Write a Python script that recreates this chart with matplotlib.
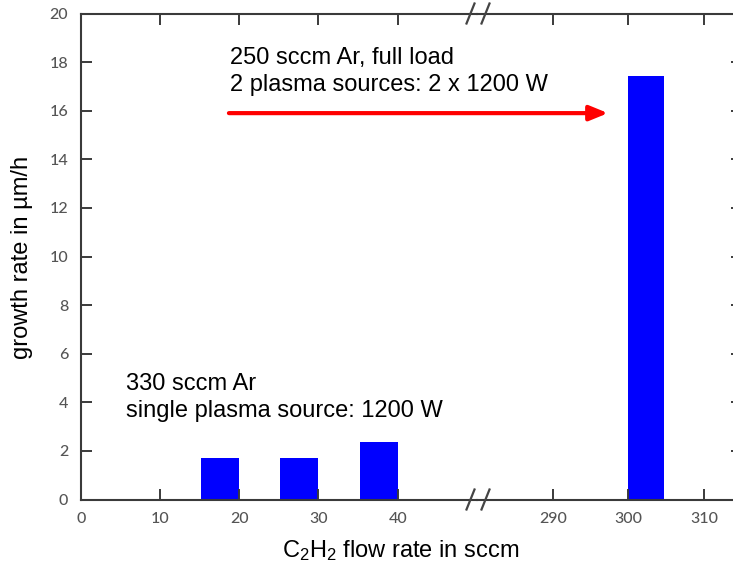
import matplotlib
matplotlib.use("Agg")
import matplotlib.pyplot as plt
from matplotlib.lines import Line2D

plt.rcParams['mathtext.fontset'] = 'custom'
plt.rcParams['mathtext.rm'] = 'Liberation Sans'
plt.rcParams['mathtext.it'] = 'Liberation Sans'

# data
flow_low = [17.6, 27.6, 37.6]
rate_low = [1.70, 1.70, 2.38]
flow_high = [302.3]
rate_high = [17.44]
bar_width = 4.8

xticks_low = [0, 10, 20, 30, 40]
xticks_high = [290, 300, 310]
yticks = list(range(0, 21, 2))

W, H = 733, 569
fig = plt.figure(figsize=(W / 100, H / 100), dpi=100)

spine_col = '#3a3a3a'
tick_col = '#555555'
tick_font = 'Lato'
txt_font = 'Liberation Sans'

x0, xb, x1 = 80.7, 477.0, 742.0
ytop, ybot = 13.5, 499.5
bottom = (H - ybot) / H
height = (ybot - ytop) / H

ax1 = fig.add_axes([x0 / W, bottom, (xb - x0) / W, height])
ax2 = fig.add_axes([xb / W, bottom, (x1 - xb) / W, height])
ax2.patch.set_visible(False)

ax1.bar(flow_low, rate_low, width=bar_width, color='#0000ff', edgecolor='none')
ax2.bar(flow_high, rate_high, width=bar_width, color='#0000ff', edgecolor='none')

ax1.set_xlim(0, 50)
ax2.set_xlim(280, 315)
for ax in (ax1, ax2):
    ax.set_ylim(0, 20)
    ax.set_yticks(yticks)
    for s in ax.spines.values():
        s.set_color(spine_col)
        s.set_linewidth(1.5)
    ax.tick_params(direction='in', length=8, width=1.4, color=spine_col,
                   labelcolor=tick_col, labelsize=11.5, pad=9)

ax1.set_xticks(xticks_low)
ax2.set_xticks(xticks_high)
ax1.spines['right'].set_visible(False)
ax2.spines['left'].set_visible(False)
ax2.spines['right'].set_visible(False)
ax1.tick_params(axis='x', top=True)
ax2.tick_params(axis='x', top=True)
ax1.tick_params(axis='y', left=True, right=False)
ax2.tick_params(axis='y', left=False, labelleft=False, right=True)
for lab in ax1.get_xticklabels() + ax1.get_yticklabels() + ax2.get_xticklabels():
    lab.set_fontfamily(tick_font)
    lab.set_fontsize(11.5)
    lab.set_fontweight('medium')

# break marks
for yy in (ytop, ybot):
    for cx in (470.5, 485.5):
        fig.add_artist(Line2D([(cx - 4) / W, (cx + 4) / W],
                              [(H - yy - 10) / H, (H - yy + 10) / H],
                              color='#444444', lw=1.6, transform=fig.transFigure))

# annotations
ax1.text(18.8, 17.62, "250 sccm Ar, full load\n2 plasma sources: 2 x 1200 W",
         fontsize=17, family=txt_font, color='black', linespacing=1.32,
         va='center', ha='left', clip_on=False, zorder=10)
ax1.text(5.7, 4.2, "330 sccm Ar\nsingle plasma source: 1200 W",
         fontsize=17, family=txt_font, color='black', linespacing=1.3,
         va='center', ha='left', clip_on=False, zorder=10)

ax2.annotate('', xy=(297.3, 15.9), xycoords='data',
             xytext=(18.7, 15.9), textcoords=ax1.transData,
             arrowprops=dict(arrowstyle='-|>,head_length=1.1,head_width=0.45',
                             color='#ff0000', lw=3, shrinkA=0, shrinkB=0),
             annotation_clip=False)

fig.text(401 / W, 1 - 551 / H, r"C$_\mathregular{2}$H$_\mathregular{2}$ flow rate in sccm",
         fontsize=17, family=txt_font, ha='center', va='center')
fig.text(22 / W, 1 - 257 / H, "growth rate in µm/h", rotation=90,
         fontsize=17, family=txt_font, ha='center', va='center')

fig.savefig('out.png', dpi=100)
